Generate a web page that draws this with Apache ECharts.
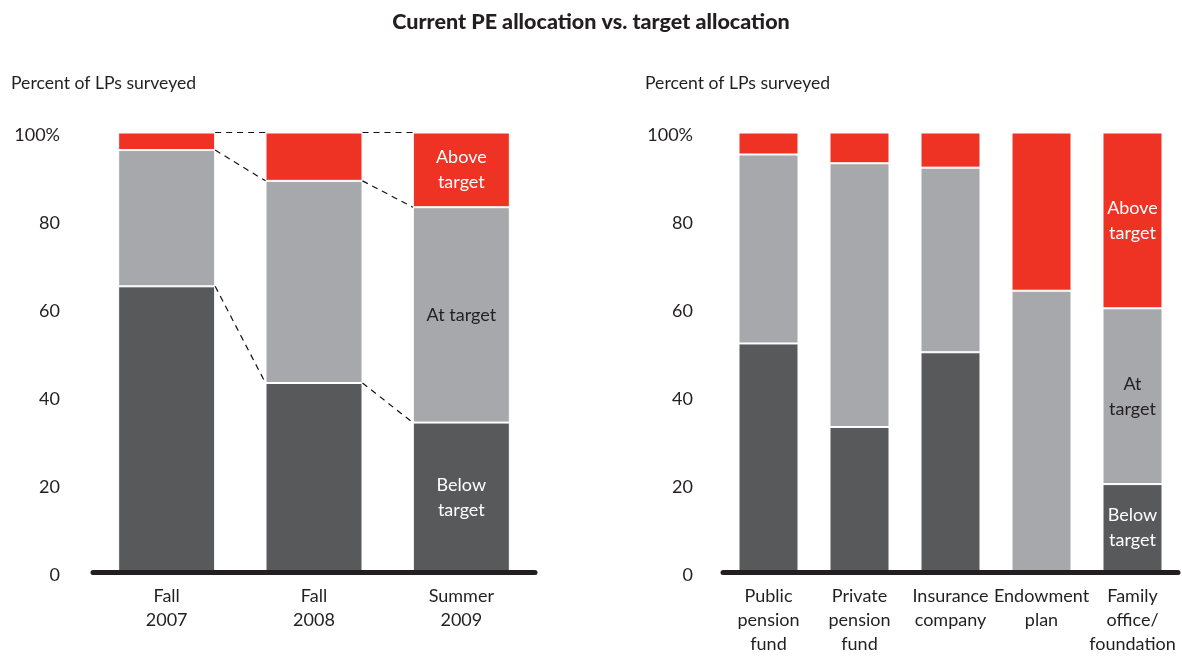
<!DOCTYPE html>
<html>
<head>
<meta charset="utf-8">
<script src="https://cdn.jsdelivr.net/npm/echarts@6/dist/echarts.min.js"></script>
<style>
html,body{margin:0;padding:0;background:#fff;}
#chart{width:1182px;height:656px;}
</style>
</head>
<body>
<div id="chart"></div>
<script>
// ---- Data ----
const titleText = 'Current PE allocation vs. target allocation';
const axisTitle = 'Percent of LPs surveyed';

const leftCategories = ['Fall\n2007', 'Fall\n2008', 'Summer\n2009'];
const leftBelow = [65, 43, 34];
const leftAt = [31, 46, 49];
const leftAbove = [4, 11, 17];
const leftSegmentLabels = ['Below\ntarget', 'At target', 'Above\ntarget'];

const rightCategories = ['Public\npension\nfund', 'Private\npension\nfund', 'Insurance\ncompany', 'Endowment\nplan', 'Family\noffice/\nfoundation'];
const rightBelow = [52, 33, 50, 0, 20];
const rightAt = [43, 60, 42, 64, 40];
const rightAbove = [5, 7, 8, 36, 40];
const rightSegmentLabels = ['Below\ntarget', 'At\ntarget', 'Above\ntarget'];

const yTicks = [0, 20, 40, 60, 80, 100];

// ---- Style ----
const FONT = 'Lato';
const C_DARK = '#58595b';
const C_GRAY = '#a7a8ab';
const C_RED = '#ee3224';
const C_TEXT = '#231f20';
const LEFT_BAR_W = 97;
const RIGHT_BAR_W = 60;

function segData(values, labelText, labelColor, labelIdx) {
  return values.map((v, i) => {
    const item = { value: v };
    if (v === 0) item.itemStyle = { borderWidth: 0 };
    if (i === labelIdx) {
      item.label = {
        show: true, position: 'inside', formatter: labelText,
        color: labelColor, fontFamily: FONT, fontSize: 18, lineHeight: 25
      };
    }
    return item;
  });
}

function makeBars(gridIdx, below, at, above, labels, barW) {
  const last = below.length - 1;
  const common = {
    type: 'bar', stack: 'g' + gridIdx, xAxisIndex: gridIdx, yAxisIndex: gridIdx,
    barWidth: barW, silent: true
  };
  return [
    Object.assign({}, common, { name: 'Below target', data: segData(below, labels[0], '#ffffff', last), itemStyle: { color: C_DARK, borderColor: '#fff', borderWidth: 1 } }),
    Object.assign({}, common, { name: 'At target', data: segData(at, labels[1], C_TEXT, last), itemStyle: { color: C_GRAY, borderColor: '#fff', borderWidth: 1 } }),
    Object.assign({}, common, { name: 'Above target', data: segData(above, labels[2], '#ffffff', last), itemStyle: { color: C_RED, borderColor: '#fff', borderWidth: 1 } })
  ];
}

// connectors between adjacent left bars: [index, valueAtIndex, valueAtNext]
const connectors = [];
for (let i = 0; i < leftBelow.length - 1; i++) {
  const tot1 = leftBelow[i] + leftAt[i] + leftAbove[i];
  const tot2 = leftBelow[i + 1] + leftAt[i + 1] + leftAbove[i + 1];
  connectors.push([i, tot1, tot2]);
  connectors.push([i, leftBelow[i] + leftAt[i], leftBelow[i + 1] + leftAt[i + 1]]);
  connectors.push([i, leftBelow[i], leftBelow[i + 1]]);
}

function yAxisCfg(gridIdx, margin) {
  return {
    type: 'value', gridIndex: gridIdx, min: 0, max: 100, interval: 20,
    axisLine: { show: false }, axisTick: { show: false }, splitLine: { show: false },
    axisLabel: {
      margin: margin,
      formatter: v => '{a|' + (yTicks.indexOf(v) >= 0 ? (v === 100 ? v + '%' : String(v)) : '') + '}',
      rich: { a: { fontFamily: FONT, fontSize: 18, color: C_TEXT, padding: [6, 0, 0, 0] } }
    }
  };
}
function xAxisCfg(gridIdx, cats) {
  return {
    type: 'category', gridIndex: gridIdx, data: cats, z: 5,
    axisLine: { show: true, lineStyle: { color: C_TEXT, width: 5 } },
    axisTick: { show: false },
    axisLabel: { fontFamily: FONT, fontSize: 18, color: C_TEXT, lineHeight: 24, margin: 12, interval: 0 }
  };
}

const chart = echarts.init(document.getElementById('chart'), null, { renderer: 'canvas' });
chart.setOption({
  animation: false,
  backgroundColor: '#ffffff',
  title: [
    { text: titleText, left: 'center', top: 6, textStyle: { fontFamily: FONT, fontWeight: 900, fontSize: 21.5, color: C_TEXT } },
    { text: axisTitle, left: 6, top: 69, textStyle: { fontFamily: FONT, fontWeight: 'normal', fontSize: 17.6, color: C_TEXT } },
    { text: axisTitle, left: 640, top: 69, textStyle: { fontFamily: FONT, fontWeight: 'normal', fontSize: 17.6, color: C_TEXT } }
  ],
  grid: [
    { left: 93, width: 442, top: 132.5, height: 439.5 },
    { left: 723, width: 455, top: 132.5, height: 439.5 }
  ],
  xAxis: [xAxisCfg(0, leftCategories), xAxisCfg(1, rightCategories)],
  yAxis: [yAxisCfg(0, 33), yAxisCfg(1, 30)],
  series: [
    ...makeBars(0, leftBelow, leftAt, leftAbove, leftSegmentLabels, LEFT_BAR_W),
    ...makeBars(1, rightBelow, rightAt, rightAbove, rightSegmentLabels, RIGHT_BAR_W),
    {
      type: 'custom', xAxisIndex: 0, yAxisIndex: 0, silent: true, z: 5,
      data: connectors,
      renderItem: function (params, api) {
        const i = api.value(0);
        const p1 = api.coord([i, api.value(1)]);
        const p2 = api.coord([i + 1, api.value(2)]);
        return {
          type: 'line',
          shape: { x1: p1[0] + LEFT_BAR_W / 2, y1: p1[1], x2: p2[0] - LEFT_BAR_W / 2, y2: p2[1] },
          style: { stroke: '#111111', lineWidth: 1.2, lineDash: [6, 5] }
        };
      }
    }
  ]
});
</script>
</body>
</html>
